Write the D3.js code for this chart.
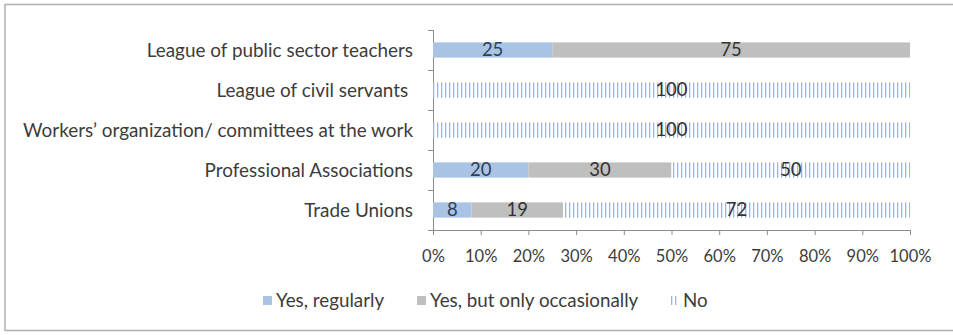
<!DOCTYPE html>
<html>
<head>
<meta charset="utf-8">
<script src="https://cdn.jsdelivr.net/npm/d3@7"></script>
<style>
  html, body { margin: 0; padding: 0; background: #fff; }
  svg { display: block; font-family: Lato, "Open Sans", sans-serif; }
</style>
</head>
<body>
<svg id="chart" width="953" height="335"></svg>
<script>
// Organisations, top to bottom
const categories = [
  "League of public sector teachers",
  "League of civil servants ",
  "Workers\u2019 organization/ committees at the work",
  "Professional Associations",
  "Trade Unions"
];
const seriesNames = ["Yes, regularly", "Yes, but only occasionally", "No"];
const regularly    = [25, 0, 0, 20, 8];
const occasionally = [75, 0, 0, 30, 19];
const never        = [0, 100, 100, 50, 72];
const tickValues = [0, 0.1, 0.2, 0.3, 0.4, 0.5, 0.6, 0.7, 0.8, 0.9, 1];

const svg = d3.select("#chart");
const textColor = "#3c3c3c";

// Outer frame
svg.append("rect")
  .attr("x", 5).attr("y", 4.5).attr("width", 960).attr("height", 326)
  .attr("fill", "#fff").attr("stroke", "#b0b0b0").attr("stroke-width", 1.5);

// Vertical-stripe pattern for the "No" series
const defs = svg.append("defs");
const pat = defs.append("pattern")
  .attr("id", "stripes").attr("patternUnits", "userSpaceOnUse")
  .attr("width", 4).attr("height", 4);
pat.append("rect").attr("width", 4).attr("height", 4).attr("fill", "#fff");
pat.append("rect").attr("x", 1).attr("width", 1.3).attr("height", 4).attr("fill", "#9fb6d8");

const colors = ["#a9c3e5", "#bfbfbf", "url(#stripes)"];

const x = d3.scaleLinear().domain([0, 1]).range([433, 910]);
const y = d3.scaleBand().domain(categories).range([30, 230])
  .paddingInner(0.62).paddingOuter(0.31);

// Build 100% stacked rows
const rows = categories.map((c, i) => {
  const vals = [regularly[i], occasionally[i], never[i]];
  const total = d3.sum(vals);
  let acc = 0;
  return vals.map((v, k) => {
    const seg = { cat: c, k, v, x0: acc / total, x1: (acc + v) / total };
    acc += v;
    return seg;
  });
}).flat().filter(d => d.v > 0);

// X axis
const xAxis = svg.append("g")
  .attr("transform", "translate(0,230)")
  .call(d3.axisBottom(x).tickValues(tickValues).tickFormat(d3.format(".0%")).tickSize(5).tickPadding(15));
xAxis.select(".domain").attr("stroke", "#8c8c8c");
xAxis.selectAll(".tick line").attr("stroke", "#8c8c8c");
xAxis.selectAll(".tick text").attr("fill", textColor).attr("font-size", 16.5)
  .attr("font-family", "Lato, 'Open Sans', sans-serif");

// Y axis line and tick marks on category boundaries
const yAxis = svg.append("g");
yAxis.append("line").attr("x1", 433.5).attr("x2", 433.5).attr("y1", 30).attr("y2", 230)
  .attr("stroke", "#8c8c8c");
const bounds = d3.range(categories.length + 1).map(i => 30 + i * y.step());
yAxis.selectAll("line.tk").data(bounds).join("line").attr("class", "tk")
  .attr("x1", 428).attr("x2", 433.5).attr("y1", d => d + 0.5).attr("y2", d => d + 0.5)
  .attr("stroke", "#8c8c8c");

// Category labels
svg.append("g").selectAll("text").data(categories).join("text")
  .attr("x", 413).attr("y", d => y(d) + y.bandwidth() / 2)
  .attr("dy", "0.35em").attr("text-anchor", "end")
  .attr("xml:space", "preserve")
  .style("white-space", "pre")
  .attr("fill", textColor).attr("font-size", 18.9)
  .text(d => d);

// Bars
svg.append("g").selectAll("rect").data(rows).join("rect")
  .attr("x", d => x(d.x0)).attr("width", d => x(d.x1) - x(d.x0))
  .attr("y", d => y(d.cat)).attr("height", y.bandwidth())
  .attr("fill", d => colors[d.k]);

// Value labels
svg.append("g").selectAll("text").data(rows).join("text")
  .attr("x", d => (x(d.x0) + x(d.x1)) / 2)
  .attr("y", d => y(d.cat) + y.bandwidth() / 2)
  .attr("dy", "0.35em").attr("text-anchor", "middle")
  .attr("fill", d => d.k === 0 ? "#2f3e55" : "#333")
  .attr("font-size", 18.5)
  .text(d => d.v);

// Legend
const legendX = [263, 417, 670];
const lg = svg.append("g").selectAll("g").data(seriesNames).join("g")
  .attr("transform", (d, i) => `translate(${legendX[i]},296)`);
lg.append("rect").attr("width", 9).attr("height", 9)
  .attr("fill", (d, i) => colors[i]);
lg.append("text").attr("x", 13).attr("y", 4.5).attr("dy", "0.35em")
  .attr("fill", textColor).attr("font-size", 18.8).text(d => d);
</script>
</body>
</html>
